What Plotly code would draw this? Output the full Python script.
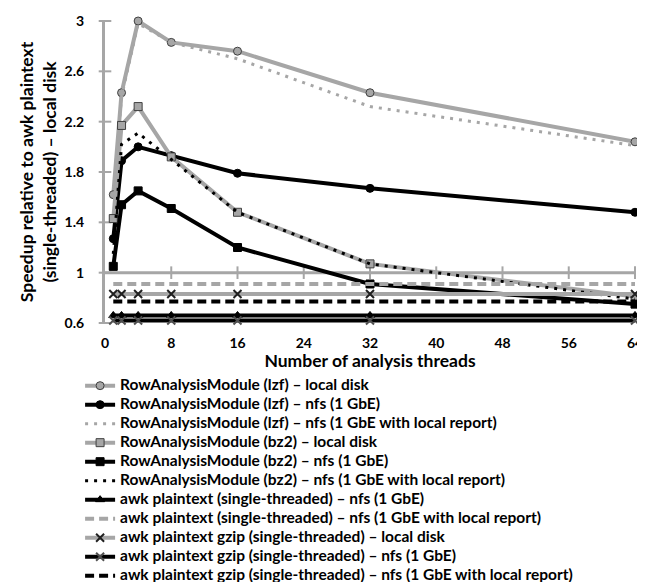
import plotly.graph_objects as go

threads = [1, 2, 4, 8, 16, 32, 64]

lzf_local = [1.62, 2.43, 3.00, 2.83, 2.76, 2.43, 2.04]
lzf_nfs = [1.27, 1.89, 2.00, 1.93, 1.79, 1.67, 1.48]
lzf_nfs_local = [1.60, 2.40, 2.98, 2.83, 2.70, 2.32, 2.01]
bz2_local = [1.43, 2.17, 2.32, 1.92, 1.48, 1.07, 0.81]
bz2_nfs = [1.05, 1.54, 1.65, 1.51, 1.20, 0.91, 0.75]
bz2_nfs_local = [1.15, 2.02, 2.11, 1.90, 1.48, 1.07, 0.79]
awk_plain_nfs = [0.66, 0.66, 0.66, 0.66, 0.66, 0.66, 0.66]
awk_plain_nfs_local = [0.91, 0.91, 0.91, 0.91, 0.91, 0.91, 0.91]
awk_gzip_local = [0.83, 0.83, 0.83, 0.83, 0.83, 0.83, 0.83]
awk_gzip_nfs = [0.62, 0.62, 0.62, 0.62, 0.62, 0.62, 0.62]
awk_gzip_nfs_local = [0.77, 0.77, 0.77, 0.77, 0.77, 0.77, 0.77]

names = [
    "RowAnalysisModule (lzf) – local disk",
    "RowAnalysisModule (lzf) – nfs (1 GbE)",
    "RowAnalysisModule (lzf) – nfs (1 GbE with local report)",
    "RowAnalysisModule (bz2) – local disk",
    "RowAnalysisModule (bz2) – nfs (1 GbE)",
    "RowAnalysisModule (bz2) – nfs (1 GbE with local report)",
    "awk plaintext (single-threaded) – nfs (1 GbE)",
    "awk plaintext (single-threaded) – nfs (1 GbE with local report)",
    "awk plaintext gzip (single-threaded) – local disk",
    "awk plaintext gzip (single-threaded) – nfs (1 GbE)",
    "awk plaintext gzip (single-threaded) – nfs (1 GbE with local report)",
]

x_ticks = [0, 8, 16, 24, 32, 40, 48, 56, 64]
y_ticks = [0.6, 1.0, 1.4, 1.8, 2.2, 2.6, 3.0]
y_tick_text = ["0.6", "1", "1.4", "1.8", "2.2", "2.6", "3"]
x_axis_cross = 1.0  # horizontal axis crosses the value axis at 1

GRAY = "#A6A6A6"
BLACK = "#000000"
OUTL = "#404040"
FONT = "Lato, sans-serif"
LEGEND_TEXT_PX = 15.5

series = [
    (lzf_local, GRAY, 4, "solid", "circle", GRAY, OUTL, 1),
    (lzf_nfs, BLACK, 4, "solid", "circle", BLACK, BLACK, 1),
    (lzf_nfs_local, GRAY, 3, "3px,6px", None, None, None, 0),
    (bz2_local, GRAY, 4, "solid", "square", GRAY, OUTL, 1),
    (bz2_nfs, BLACK, 4, "solid", "square", BLACK, BLACK, 1),
    (bz2_nfs_local, BLACK, 3, "3px,6px", None, None, None, 0),
    (awk_plain_nfs, BLACK, 4, "solid", "triangle-up", BLACK, BLACK, 1),
    (awk_plain_nfs_local, GRAY, 4, "9px,5px", None, None, None, 0),
    (awk_gzip_local, GRAY, 4, "solid", "x-thin", "#202020", "#202020", 2),
    (awk_gzip_nfs, BLACK, 4, "solid", "x-thin", "#505050", "#505050", 2),
    (awk_gzip_nfs_local, BLACK, 4, "9px,5px", None, None, None, 0),
]

fig = go.Figure()

# axis decorations: horizontal axis drawn at y=1 with crossing tick marks
fig.add_shape(type="line", xref="x", yref="y", x0=x_ticks[0], x1=x_ticks[-1],
              y0=x_axis_cross, y1=x_axis_cross, layer="below",
              line=dict(color=GRAY, width=3))
fig.add_trace(go.Scatter(
    x=x_ticks[1:], y=[x_axis_cross] * (len(x_ticks) - 1), mode="markers",
    marker=dict(symbol="line-ns-open", size=9, color=GRAY, line=dict(color=GRAY, width=2)),
    showlegend=False, hoverinfo="skip", cliponaxis=False))
fig.add_trace(go.Scatter(
    x=[x_ticks[0]] * len(y_ticks), y=y_ticks, mode="markers",
    marker=dict(symbol="line-ew-open", size=9, color=GRAY, line=dict(color=GRAY, width=2)),
    showlegend=False, hoverinfo="skip", cliponaxis=False))

for name, (vals, col, w, dash, sym, mfill, mline, mlw) in zip(names, series):
    label = "<span style='font-size:%spx'>%s</span>" % (LEGEND_TEXT_PX, name)
    if sym:
        fig.add_trace(go.Scatter(
            x=threads, y=vals, name=label, mode="lines+markers",
            line=dict(color=col, width=w, dash=dash),
            marker=dict(symbol=sym, size=8, color=mfill,
                        line=dict(color=mline, width=mlw)),
            cliponaxis=False))
    else:
        fig.add_trace(go.Scatter(
            x=threads, y=vals, name=label, mode="lines",
            line=dict(color=col, width=w, dash=dash),
            cliponaxis=False))

tickfont = dict(family=FONT, size=14, color="#000", weight="bold")

fig.update_layout(
    width=645, height=582,
    margin=dict(l=97, r=18, t=13, b=267, autoexpand=False),
    plot_bgcolor="white", paper_bgcolor="white",
    font=dict(family=FONT, color="#000"),
    showlegend=True,
    legend=dict(
        x=-0.047, xanchor="left", yref="container", y=0.376, yanchor="top",
        font=dict(family=FONT, size=11, color="#000", weight="bold"),
        tracegroupgap=0, bgcolor="rgba(0,0,0,0)", itemwidth=30,
    ),
    xaxis=dict(
        range=[0, 64], tickvals=x_ticks, showgrid=False, zeroline=False,
        showline=False, ticks="outside", ticklen=7, tickcolor="rgba(0,0,0,0)",
        tickfont=tickfont,
        title=dict(text="Number of analysis threads", standoff=5,
                   font=dict(family=FONT, size=17.5, color="#000", weight="bold")),
    ),
    yaxis=dict(
        range=[0.6, 3.0], tickvals=y_ticks, ticktext=y_tick_text,
        showgrid=False, zeroline=False, showline=True, linecolor=GRAY, linewidth=3,
        ticks="outside", ticklen=15, tickcolor="rgba(0,0,0,0)",
        tickfont=tickfont,
        title=dict(text="Speedup relative to awk plaintext<br>(single-threaded) – local disk",
                   standoff=4,
                   font=dict(family=FONT, size=17.5, color="#000", weight="bold")),
    ),
)

fig.write_html("out.html")
